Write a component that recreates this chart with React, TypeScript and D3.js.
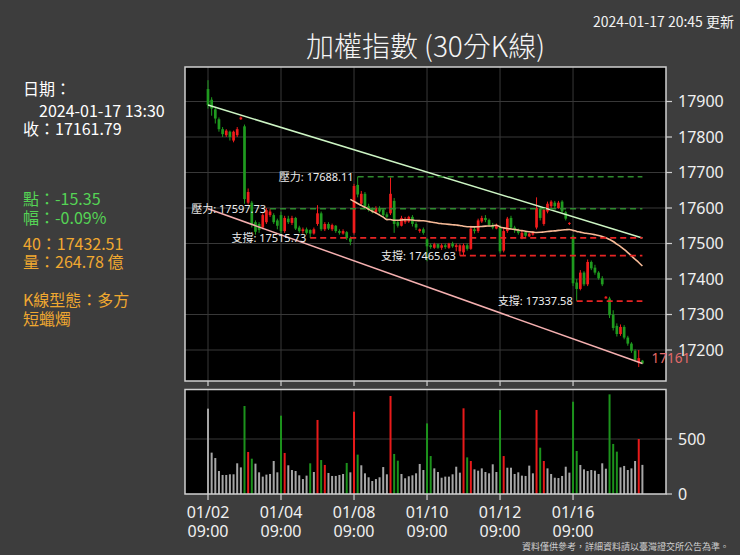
import React from 'react';
import * as d3 from 'd3';

// ---- data ----
const tradingDays = ['01/02','01/03','01/04','01/05','01/08','01/09','01/10','01/11','01/12','01/15','01/16','01/17'];
const barsPerDay = 10;

const opens = [
  17935,17905,17878,17850,17822,17805,17815,17790,17805,17850,
  17830,17615,17615,17560,17555,17545,17560,17580,17580,17565,
  17580,17535,17570,17558,17572,17545,17535,17540,17538,17528,
  17555,17585,17540,17555,17540,17550,17535,17528,17532,17515,
  17530,17665,17612,17640,17605,17598,17588,17600,17595,17582,
  17585,17620,17560,17550,17560,17562,17575,17555,17535,17540,
  17512,17495,17488,17498,17488,17495,17488,17500,17490,17478,
  17475,17495,17485,17540,17535,17562,17572,17566,17552,17542,
  17545,17480,17535,17572,17545,17538,17515,17532,17520,17525,
  17545,17598,17555,17590,17605,17615,17600,17618,17588,17555,
  17520,17390,17372,17418,17385,17448,17432,17418,17402,17345,
  17345,17300,17268,17245,17265,17235,17218,17198,17165,17170,
];
const highs = [
  17960,17912,17882,17855,17828,17822,17818,17818,17828,17858,
  17835,17655,17620,17565,17560,17585,17600,17597.73,17585,17570,
  17590,17578,17578,17578,17575,17550,17545,17545,17540,17545,
  17608,17590,17560,17560,17556,17552,17540,17540,17535,17520,
  17668,17688.11,17648,17645,17612,17602,17605,17605,17598,17588,
  17686,17628,17565,17578,17575,17578,17580,17560,17542,17545,
  17515,17500,17502,17500,17500,17500,17502,17505,17500,17498,
  17500,17500,17550,17548,17570,17578,17580,17570,17558,17556,
  17552,17545,17575,17578,17550,17542,17535,17535,17530,17535,
  17630,17605,17600,17618,17622,17620,17620,17622,17592,17560,
  17525,17400,17425,17422,17455,17452,17440,17422,17408,17352,
  17350,17312,17275,17272,17270,17240,17222,17202,17200,17172,
];
const lows = [
  17880,17860,17838,17815,17800,17800,17790,17785,17800,17848,
  17612,17610,17545,17525,17530,17540,17555,17575,17555,17540,
  17528,17530,17555,17552,17538,17530,17528,17525,17515.73,17525,
  17550,17535,17535,17538,17535,17530,17525,17525,17510,17495,
  17525,17630,17608,17598,17590,17585,17585,17585,17575,17570,
  17580,17530,17545,17548,17555,17558,17548,17538,17530,17525,
  17450,17485,17485,17485,17482,17485,17485,17488,17478,17465.63,
  17466,17480,17482,17528,17530,17558,17560,17548,17540,17540,
  17472,17475,17530,17540,17530,17525,17512,17518,17518,17522,
  17540,17565,17550,17585,17600,17598,17598,17585,17565,17552,
  17380,17337.58,17368,17380,17380,17425,17412,17398,17380,17345,
  17290,17255,17238,17240,17230,17212,17192,17168,17152,17160,
];
const closes = [
  17890,17880,17852,17822,17808,17818,17800,17815,17822,17855,
  17625,17645,17552,17533,17538,17580,17594,17590,17560,17550,
  17535,17572,17560,17572,17542,17535,17540,17530,17528,17540,
  17585,17540,17555,17542,17552,17535,17530,17535,17515,17505,
  17662,17638,17640,17605,17595,17590,17600,17590,17580,17575,
  17640,17555,17550,17572,17570,17575,17555,17545,17540,17530,
  17492,17490,17498,17488,17495,17490,17500,17492,17495,17495,
  17495,17485,17542,17535,17565,17572,17566,17552,17545,17552,
  17478,17535,17570,17545,17538,17530,17530,17522,17528,17530,
  17600,17572,17595,17612,17618,17605,17615,17590,17570,17558,
  17388,17372,17418,17385,17448,17430,17418,17402,17385,17350,
  17298,17262,17245,17265,17235,17218,17198,17172,17177.14,17161.79,
];
const volumes = [
  776,376,327,209,173,173,179,179,279,242,
  800,382,321,276,197,158,176,182,300,197,
  712,373,261,218,209,170,136,167,279,200,
  673,309,264,191,164,164,173,182,282,197,
  748,358,261,188,152,118,136,152,245,179,
  891,364,303,182,143,161,170,188,273,218,
  642,345,233,200,148,158,158,179,248,194,
  779,333,300,224,212,233,200,188,270,200,
  764,345,239,239,182,197,167,164,258,188,
  764,421,300,233,182,148,145,164,248,194,
  839,391,264,224,209,218,212,182,279,230,
  906,455,385,242,255,218,233,300,500,264.78,
];
// n = neutral (gray), r = red, g = green
const volumeColors = (
  'nnnnnnnnnn' + 'grgnnnnnnn' + 'grnnnnnngn' + 'rgrnnnnngn' +
  'rgnnnnnnnn' + 'rggnnnnnnn' + 'ggnnnnnnnn' + 'rgrnnnnnnn' +
  'grnnnnnnnn' + 'rgrnnnnnnn' + 'ggnnnnnnnn' + 'gggnnnnnrn'
).split('');

const priceTicks = [17200, 17300, 17400, 17500, 17600, 17700, 17800, 17900];
const volumeTicks = [0, 500];
const resistances = [
  { value: 17688.11, from: 41 },
  { value: 17597.73, from: 17 },
];
const supports = [
  { value: 17515.73, from: 28 },
  { value: 17465.63, from: 69 },
  { value: 17337.58, from: 101 },
];
const upperTrend = [17890, 17515.73];
const lowerTrend = [17597.73, 17161.79];
const maPeriod = 40;

const infoWhite = ['日期：', '2024-01-17 13:30', '收：17161.79'];
const infoGreen = ['點：-15.35', '幅：-0.09%'];
const infoOrange = ['40：17432.51', '量：264.78 億'];
const infoPattern = ['K線型態：多方', '短蠟燭'];

const title = '加權指數 (30分K線)';
const updated = '2024-01-17 20:45 更新';
const footnote = '資料僅供參考，詳細資料請以臺灣證交所公告為準。';

const UP = '#f01c1c';
const DOWN = '#1f9a1f';

export default function App() {
  const W = 740, H = 555;
  const left = 185, right = 666, top = 67, mainBottom = 381;
  const volTop = 389.5, volBottom = 494;
  const n = closes.length;
  const last = n - 1;

  const x = d3.scaleLinear().domain([0, 119]).range([208, 642.4]);
  const y = d3.scaleLinear().domain([17200, 17900]).range([350, 101.5]);
  const yv = d3.scaleLinear().domain([0, 500]).range([494, 439]);

  const tickIdx = tradingDays.map((_, i) => i).filter(i => i % 2 === 0).map(i => i * barsPerDay);

  const ma: [number, number][] = [];
  for (let i = maPeriod - 1; i < n; i++) {
    const m = d3.mean(closes.slice(i - maPeriod + 1, i + 1)) as number;
    ma.push([i, m]);
  }
  const maPath = d3.line<[number, number]>()
    .x(d => x(d[0])).y(d => y(d[1])).curve(d3.curveMonotoneX)(ma) || '';

  const bodyW = 2.7;
  const volW = 2;
  const cjk = '"Noto Sans CJK TC", "Noto Sans", sans-serif';
  const sans = '"Noto Sans", "Noto Sans CJK TC", sans-serif';

  return (
    <svg width={W} height={H} style={{ position: 'absolute', left: 0, top: 0, background: '#3d3d3d' }}>
      <rect x={0} y={0} width={W} height={H} fill="#3d3d3d" />
      <text x={734} y={27} textAnchor="end" fill="#f2f2f2" fontSize={14} fontFamily={cjk}>{updated}</text>
      <text x={(left + right) / 2} y={57} textAnchor="middle" fill="#f5f5f5" fontSize={28} fontWeight={300} fontFamily={cjk}>{title}</text>

      {/* left info panel */}
      <g fontFamily={cjk} fontSize={16}>
        <text x={23} y={95} fill="#ffffff">{infoWhite[0]}</text>
        <text x={39} y={117} fill="#ffffff">{infoWhite[1]}</text>
        <text x={23} y={135} fill="#ffffff">{infoWhite[2]}</text>
        <text x={23} y={205} fill="#55d455">{infoGreen[0]}</text>
        <text x={23} y={224} fill="#55d455">{infoGreen[1]}</text>
        <text x={23} y={250} fill="#f0a830">{infoOrange[0]}</text>
        <text x={23} y={268} fill="#f0a830">{infoOrange[1]}</text>
        <text x={23} y={306} fill="#f0a830">{infoPattern[0]}</text>
        <text x={23} y={325} fill="#f0a830">{infoPattern[1]}</text>
      </g>

      {/* panes */}
      <rect x={left} y={top} width={right - left} height={mainBottom - top} fill="#000" />
      <rect x={left} y={volTop} width={right - left} height={volBottom - volTop} fill="#000" />

      {/* grid */}
      <g stroke="#383838" strokeWidth={1}>
        {priceTicks.map(t => (
          <line key={'hp' + t} x1={left} x2={right} y1={y(t)} y2={y(t)} />
        ))}
        {tickIdx.map(i => (
          <line key={'vm' + i} x1={x(i)} x2={x(i)} y1={top} y2={mainBottom} />
        ))}
        {tickIdx.map(i => (
          <line key={'vv' + i} x1={x(i)} x2={x(i)} y1={volTop} y2={volBottom} />
        ))}
        <line x1={left} x2={right} y1={yv(500)} y2={yv(500)} />
      </g>

      {/* candles */}
      <g>
        {closes.map((c, i) => {
          const o = opens[i];
          const up = c >= o;
          const col = up ? UP : DOWN;
          const yt = y(Math.max(o, c));
          const yb = y(Math.min(o, c));
          return (
            <g key={'c' + i}>
              <line x1={x(i)} x2={x(i)} y1={y(highs[i])} y2={y(lows[i])} stroke={col} strokeWidth={1} />
              <rect x={x(i) - bodyW / 2} y={yt} width={bodyW} height={Math.max(1, yb - yt)} fill={col} />
            </g>
          );
        })}
      </g>

      {/* moving average */}
      <path d={maPath} fill="none" stroke="#f7bb98" strokeWidth={1.6} />

      {/* trend lines */}
      <line x1={x(0)} x2={x(last)} y1={y(upperTrend[0])} y2={y(upperTrend[1])} stroke="#cdf5c4" strokeWidth={1.5} />
      <line x1={x(0)} x2={x(last)} y1={y(lowerTrend[0])} y2={y(lowerTrend[1])} stroke="#f5b0b0" strokeWidth={1.5} />

      {/* resistance / support */}
      {resistances.map(r => (
        <g key={'r' + r.value}>
          <line x1={x(r.from)} x2={x(last)} y1={y(r.value)} y2={y(r.value)} stroke="#2e8b2e" strokeWidth={1.6} strokeDasharray="6,4" />
          <text x={x(r.from) - 4} y={y(r.value)} dy="0.36em" textAnchor="end" fill="#eeeeee" fontSize={11} fontFamily={sans}>{'壓力: ' + r.value.toFixed(2)}</text>
        </g>
      ))}
      {supports.map(s => (
        <g key={'s' + s.value}>
          <line x1={x(s.from)} x2={x(last)} y1={y(s.value)} y2={y(s.value)} stroke="#e82424" strokeWidth={1.8} strokeDasharray="6,4" />
          <text x={x(s.from) - 4} y={y(s.value)} dy="0.36em" textAnchor="end" fill="#eeeeee" fontSize={11} fontFamily={sans}>{'支撐: ' + s.value.toFixed(2)}</text>
        </g>
      ))}

      {/* volume */}
      <g>
        {volumes.map((v, i) => {
          const k = volumeColors[i];
          const col = k === 'r' ? '#e81a1a' : k === 'g' ? '#1c921c' : '#a6a6a6';
          return <rect key={'v' + i} x={x(i) - volW / 2} y={yv(v)} width={volW} height={yv(0) - yv(v)} fill={col} />;
        })}
      </g>

      {/* frames */}
      <rect x={left} y={top} width={right - left} height={mainBottom - top} fill="none" stroke="#d0d0d0" strokeWidth={1.5} />
      <rect x={left} y={volTop} width={right - left} height={volBottom - volTop} fill="none" stroke="#d0d0d0" strokeWidth={1.5} />

      {/* last price label */}
      <text x={651.5} y={363} fill="#e46a6a" fontSize={13.5} fontFamily={sans}>{Math.floor(closes[last])}</text>

      {/* right axes */}
      <g fontFamily={sans} fontSize={16} fill="#f0f0f0">
        {priceTicks.map(t => (
          <g key={'pt' + t}>
            <line x1={right} x2={right + 6} y1={y(t)} y2={y(t)} stroke="#d0d0d0" strokeWidth={1.2} />
            <text x={678} y={y(t)} dy="0.36em">{t}</text>
          </g>
        ))}
        {volumeTicks.map(t => (
          <g key={'vt' + t}>
            <line x1={right} x2={right + 6} y1={yv(t)} y2={yv(t)} stroke="#d0d0d0" strokeWidth={1.2} />
            <text x={678} y={yv(t)} dy="0.36em">{t}</text>
          </g>
        ))}
      </g>

      {/* bottom axis */}
      <g fontFamily={sans} fontSize={16} fill="#f0f0f0" textAnchor="middle">
        {tickIdx.map(i => (
          <g key={'xt' + i}>
            <line x1={x(i)} x2={x(i)} y1={mainBottom} y2={mainBottom + 5} stroke="#d0d0d0" strokeWidth={1.2} />
            <line x1={x(i)} x2={x(i)} y1={volBottom} y2={volBottom + 6} stroke="#d0d0d0" strokeWidth={1.2} />
            <text x={x(i)} y={518}>{tradingDays[i / barsPerDay]}</text>
            <text x={x(i)} y={537}>09:00</text>
          </g>
        ))}
      </g>

      <text x={729} y={550} textAnchor="end" fill="#cfcfcf" fontSize={9} fontFamily={cjk}>{footnote}</text>
    </svg>
  );
}
